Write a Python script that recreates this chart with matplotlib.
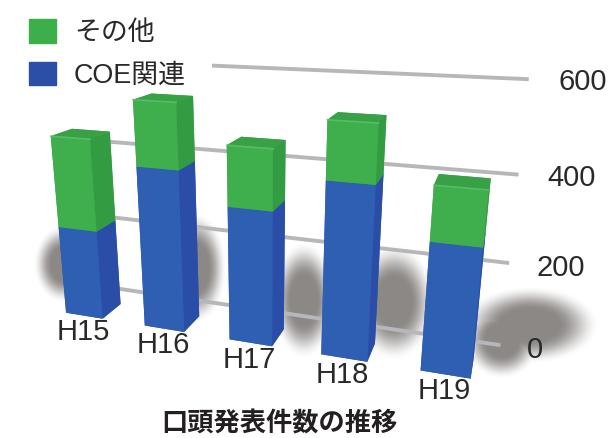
import numpy as np
import matplotlib
matplotlib.use("Agg")
import matplotlib.pyplot as plt
from matplotlib.colors import LinearSegmentedColormap
from matplotlib.patches import Patch
from mpl_toolkits.mplot3d import proj3d

W, H = 611, 438

years = ["H15", "H16", "H17", "H18", "H19"]
coe = [225, 392, 320, 399, 291]
other = [221, 150, 137, 126, 118]
yticks = [0, 200, 400, 600]

bar_w = 0.474
bar_d = 0.526
wall_y = 1.023
grid_end = 4.482
text_col = "#2b2829"
num_font = "Liberation Sans"

# colours for faces in bar3d order: bottom, top, front, back, left, right
blue = ["#2d57a8", "#2d57a8", "#2f5fb2", "#2d57a8", "#2d57a8", "#2a4ea8"]
green = ["#3aa547", "#38a045", "#3fae4d", "#3aa547", "#3aa547", "#339c43"]

# blurred floor shadows in picture pixels: centre x, centre y, radius x, radius y
blob_x = [64, 196, 304, 394, 530, 502]
blob_y = [264, 268, 300, 302, 325, 340]
blob_rx = [22, 22, 23, 30, 50, 28]
blob_ry = [28, 40, 42, 42, 28, 28]

fig = plt.figure(figsize=(W / 100, H / 100), dpi=100)

bg = fig.add_axes([0, 0, 1, 1], zorder=0)
xx, yy = np.meshgrid(np.arange(W) + 0.5, np.arange(H) + 0.5)
shade = np.zeros((H, W))
for cx, cy, rx, ry in zip(blob_x, blob_y, blob_rx, blob_ry):
    d = np.hypot((xx - cx) / rx, (yy - cy) / ry)
    s = np.clip((1.4 - d) / 0.85, 0, 1)
    shade = np.maximum(shade, s * s * (3 - 2 * s))
cmap = LinearSegmentedColormap.from_list("shadow", ["#ffffff", "#8c8886"])
bg.imshow(shade, cmap=cmap, vmin=0, vmax=1, extent=(0, W, H, 0), aspect="auto", interpolation="bilinear")
bg.set_axis_off()

ax = fig.add_axes([-0.02233, -0.1029, 537.9 / W, 537.9 / H], projection="3d", computed_zorder=False, zorder=1)
ax.patch.set_visible(False)

for v in yticks:
    ax.plot([-0.5, grid_end], [wall_y, wall_y], [v, v], color="#b7b7ba", lw=2.8, solid_capstyle="butt",
            zorder=2, clip_on=False)

for i in range(len(years)):
    x0 = i - bar_w / 2
    x1 = x0 + bar_w
    total = coe[i] + other[i]
    ax.bar3d(x0, 0, 0, bar_w, bar_d, coe[i], color=blue, shade=False, zorder=5 + i)
    ax.bar3d(x0, 0, coe[i], bar_w, bar_d, other[i], color=green, shade=False, zorder=5.5 + i)
    # soft highlight where the top bevels into the front
    ax.plot([x0, x1], [0, 0], [total, total], color="#5fc26d", lw=1.2, alpha=0.8, zorder=5.6 + i)

ax.set_xlim(-0.5, 4.5)
ax.set_ylim(0, 1)
ax.set_zlim(0, 600)
ax.view_init(17.6, -71.16)
ax.set_proj_type("persp", focal_length=0.2583)
ax.set_box_aspect((1, 0.1547, 0.5521))
ax.set_axis_off()

# labels go on as flat text, placed where the 3d point lands
M = ax.get_proj()
for v in yticks:
    px, py, _ = proj3d.proj_transform(grid_end + 0.26, wall_y, v, M)
    ax.annotate(str(v), (px, py), xytext=(0, -1), textcoords="offset points", ha="left", va="center",
                fontsize=21, family=num_font, color=text_col, zorder=20, annotation_clip=False)
for i, name in enumerate(years):
    px, py, _ = proj3d.proj_transform(i, 0, 0, M)
    ax.annotate(name, (px, py), xytext=(-1, -2), textcoords="offset points", ha="center", va="top",
                fontsize=21, family=num_font, color=text_col, zorder=20, annotation_clip=False)

handles = [Patch(color="#3cae4a", label="その他"), Patch(color="#2a4fa5", label="COE関連")]
leg = ax.legend(handles=handles, loc="upper left", bbox_to_anchor=(3 / W, 1 + 7 / H),
                bbox_transform=fig.transFigure, frameon=True, facecolor="white",
                edgecolor="none", framealpha=1, fancybox=False, borderaxespad=0, borderpad=0.98,
                handlelength=0.97, handleheight=0.97, handletextpad=0.68, labelspacing=0.56,
                prop={"family": [num_font, "Noto Sans CJK JP"], "size": 19.4})
for txt in leg.get_texts():
    txt.set_color(text_col)
leg.set_zorder(3)

fig.text(279 / W, 1 - 424.5 / H, "口頭発表件数の推移", ha="center", va="center", fontsize=18.9,
         family="Noto Sans CJK JP", fontweight="bold", color="#231f20")

fig.savefig("out.png", dpi=100)
